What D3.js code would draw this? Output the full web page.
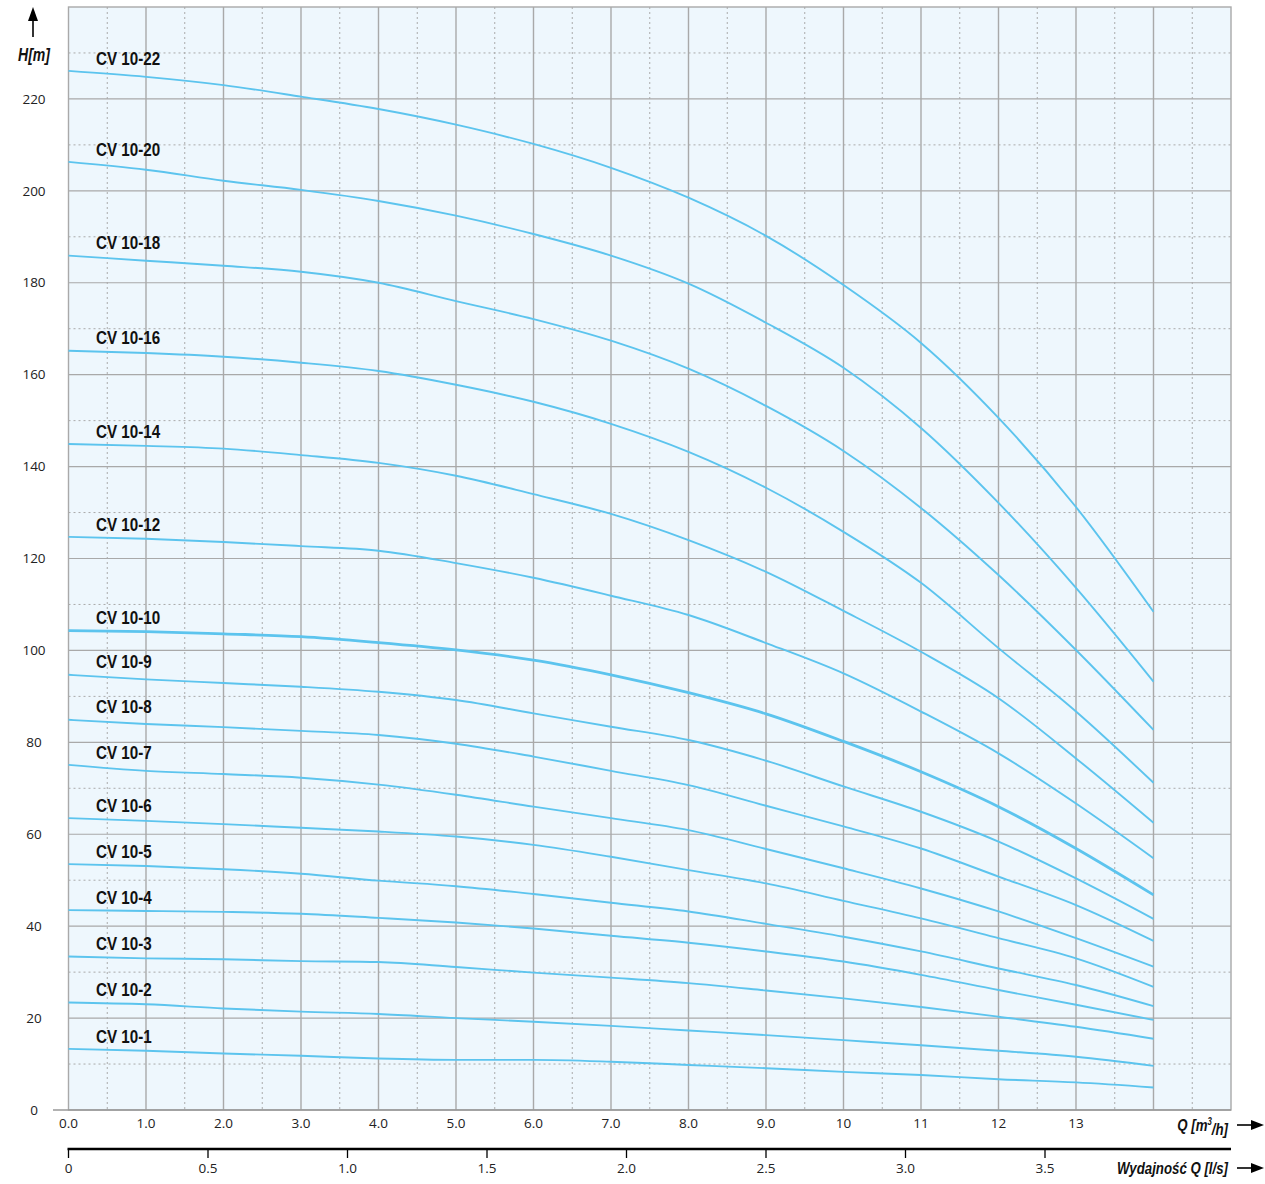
<!DOCTYPE html>
<html><head><meta charset="utf-8">
<script src="https://cdn.jsdelivr.net/npm/d3@7"></script>
<style>
html,body{margin:0;padding:0;background:#fff;}
svg{display:block;}
</style></head>
<body>
<svg id="chart" width="1265" height="1184"></svg>
<script>
// ---- data ----
const flowQ = [0,1,2,3,4,5,6,7,8,9,10,11,12,13,14];
const models = ["CV 10-22","CV 10-20","CV 10-18","CV 10-16","CV 10-14","CV 10-12","CV 10-10","CV 10-9","CV 10-8","CV 10-7","CV 10-6","CV 10-5","CV 10-4","CV 10-3","CV 10-2","CV 10-1"];
const head_22 = [226.1,224.8,223.0,220.5,217.8,214.4,210.2,205.0,198.5,190.2,179.5,166.9,150.6,131.2,108.4];
const head_20 = [206.3,204.6,202.2,200.2,197.8,194.6,190.6,185.9,179.8,171.3,161.5,148.4,132.1,113.6,93.2];
const head_18 = [185.9,184.8,183.7,182.4,180.0,176.0,172.1,167.4,161.3,153.2,143.4,131.0,116.4,100.1,82.7];
const head_16 = [165.2,164.7,163.9,162.6,160.8,157.8,154.1,149.3,143.2,135.4,125.8,114.7,100.5,86.7,71.2];
const head_14 = [144.9,144.5,143.9,142.5,140.8,138.0,134.0,129.7,124.0,117.1,108.6,99.7,89.6,76.5,62.5];
const head_12 = [124.7,124.3,123.6,122.7,121.7,119.0,115.8,111.9,107.7,101.6,95.0,86.7,77.6,66.7,54.8];
const head_10 = [104.3,104.1,103.6,103.0,101.7,100.1,97.9,94.7,90.8,86.2,80.2,73.6,66.0,56.9,46.8];
const head_9  = [94.7,93.7,92.9,92.1,91.0,89.2,86.3,83.4,80.5,76.0,70.4,64.9,58.4,50.4,41.6];
const head_8  = [84.9,84.0,83.3,82.5,81.6,79.7,76.9,73.8,70.7,66.2,61.7,56.9,50.8,44.6,36.8];
const head_7  = [75.1,73.8,73.1,72.3,70.8,68.6,66.0,63.5,60.9,56.8,52.6,48.2,43.2,37.4,31.2];
const head_6  = [63.5,62.9,62.2,61.4,60.6,59.5,57.7,55.1,52.2,49.3,45.5,41.7,37.4,33.0,26.8];
const head_5  = [53.5,53.1,52.4,51.4,49.9,48.7,47.0,45.1,43.2,40.5,37.7,34.5,30.8,27.2,22.6];
const head_4  = [43.5,43.3,43.1,42.7,41.8,40.8,39.5,37.9,36.4,34.5,32.3,29.4,26.1,22.9,19.6];
const head_3  = [33.4,33.0,32.8,32.4,32.2,31.1,29.9,28.8,27.6,26.0,24.3,22.4,20.3,18.1,15.5];
const head_2  = [23.4,23.0,22.1,21.4,20.9,20.0,19.2,18.3,17.3,16.3,15.2,14.1,12.9,11.6,9.6];
const head_1  = [13.3,12.9,12.3,11.8,11.2,10.9,10.9,10.5,9.8,9.1,8.3,7.6,6.7,6.0,4.9];
const heads = [head_22,head_20,head_18,head_16,head_14,head_12,head_10,head_9,head_8,head_7,head_6,head_5,head_4,head_3,head_2,head_1];

const hTicks = [0,20,40,60,80,100,120,140,160,180,200,220];
const qTickValues = [0,1,2,3,4,5,6,7,8,9,10,11,12,13];
const qTickLabels = ["0.0","1.0","2.0","3.0","4.0","5.0","6.0","7.0","8.0","9.0","10","11","12","13"];
const lsTickValues = [0,0.5,1.0,1.5,2.0,2.5,3.0,3.5];
const lsTickLabels = ["0","0.5","1.0","1.5","2.0","2.5","3.0","3.5"];

// ---- layout ----
const L = 68.5, R = 1231, T = 7, B = 1110;
const x = d3.scaleLinear().domain([0,15]).range([L,R]);
const y = d3.scaleLinear().domain([0,240]).range([B,T]);
const xls = d3.scaleLinear().domain([0,15/3.6]).range([L,R]);

const svg = d3.select("#chart");
const curveColor = "#5cc4ee";
const gridColor = "#a9a9a9";
const numFont = "'Open Sans','Noto Sans',sans-serif";
const condFont = "'Liberation Sans','Arial',sans-serif";

function condText(px, py, str, size, italic, anchor, sx){
  const t = svg.append("text")
    .attr("transform",`translate(${px},${py}) scale(${sx},1)`)
    .attr("dy","0.35em").attr("text-anchor",anchor||"start")
    .attr("font-family",condFont).attr("font-weight","bold")
    .attr("font-style",italic?"italic":"normal")
    .attr("font-size",size).attr("fill","#111");
  if(str!==null) t.text(str);
  return t;
}

svg.append("rect").attr("x",L).attr("y",T).attr("width",R-L).attr("height",B-T).attr("fill","#eef7fd");

// dashed grid
const g = svg.append("g");
d3.range(0.5,15,1).forEach(v=>{
  g.append("line").attr("x1",x(v)).attr("x2",x(v)).attr("y1",T).attr("y2",B)
   .attr("stroke","#aaa").attr("stroke-width",1).attr("stroke-dasharray","2,3");
});
d3.range(10,240,20).forEach(v=>{
  g.append("line").attr("x1",L).attr("x2",R).attr("y1",y(v)).attr("y2",y(v))
   .attr("stroke","#aaa").attr("stroke-width",1).attr("stroke-dasharray","2,3");
});
// solid grid
d3.range(1,15,1).forEach(v=>{
  g.append("line").attr("x1",x(v)).attr("x2",x(v)).attr("y1",T).attr("y2",B)
   .attr("stroke",gridColor).attr("stroke-width",1.4);
});
d3.range(20,240,20).forEach(v=>{
  g.append("line").attr("x1",L).attr("x2",R).attr("y1",y(v)).attr("y2",y(v))
   .attr("stroke",gridColor).attr("stroke-width",1.2);
});
// border
svg.append("rect").attr("x",L).attr("y",T).attr("width",R-L).attr("height",B-T)
  .attr("fill","none").attr("stroke",gridColor).attr("stroke-width",1.4);
// bottom axis line extended to the left
svg.append("line").attr("x1",53).attr("x2",R).attr("y1",B).attr("y2",B).attr("stroke","#999").attr("stroke-width",1.6);

// curves
const line = d3.line().x((d,i)=>x(flowQ[i])).y(d=>y(d)).curve(d3.curveMonotoneX);
heads.forEach((h,k)=>{
  svg.append("path").attr("d",line(h)).attr("fill","none")
    .attr("stroke",curveColor).attr("stroke-width", models[k]==="CV 10-10"?2.8:1.9);
});
// labels
heads.forEach((h,k)=>{
  condText(96, y(h[0])-13, models[k], 19, false, "start", 0.8);
});

// y tick labels
hTicks.forEach(v=>{
  svg.append("text").attr("x",34).attr("y",y(v)).attr("dy","0.35em").attr("text-anchor","middle")
    .attr("font-family",numFont).attr("font-size",13.5).attr("fill","#222").text(v);
});
// x tick labels
qTickValues.forEach((v,i)=>{
  svg.append("text").attr("x",x(v)).attr("y",1123).attr("dy","0.35em").attr("text-anchor","middle")
    .attr("font-family",numFont).attr("font-size",13.5).attr("fill","#222").text(qTickLabels[i]);
});
// second axis (l/s)
svg.append("line").attr("x1",L-1).attr("x2",R).attr("y1",1149).attr("y2",1149).attr("stroke","#000").attr("stroke-width",2.6);
lsTickValues.forEach((v,i)=>{
  svg.append("line").attr("x1",xls(v)).attr("x2",xls(v)).attr("y1",1149).attr("y2",1158).attr("stroke","#000").attr("stroke-width",1.3);
  svg.append("text").attr("x",xls(v)).attr("y",1168).attr("dy","0.35em").attr("text-anchor","middle")
    .attr("font-family",numFont).attr("font-size",13.5).attr("fill","#222").text(lsTickLabels[i]);
});

// axis titles
const qt = condText(1228, 1125, null, 17, true, "end", 0.78);
qt.append("tspan").text("Q  [m");
qt.append("tspan").attr("font-size",10).attr("dy","-0.6em").text("3");
qt.append("tspan").attr("dy","0.6em").text("/h]");
condText(1228, 1168, "Wydajność Q [l/s]", 17, true, "end", 0.78);
condText(34, 55, "H[m]", 18, true, "middle", 0.78);

// arrows
function hArrow(x0,x1,yy){
  svg.append("line").attr("x1",x0).attr("x2",x1-10).attr("y1",yy).attr("y2",yy).attr("stroke","#000").attr("stroke-width",1.6);
  svg.append("path").attr("d",`M${x1},${yy} L${x1-13},${yy-5} L${x1-13},${yy+5} Z`).attr("fill","#000");
}
hArrow(1237,1264,1125);
hArrow(1237,1264,1168);
svg.append("line").attr("x1",33).attr("x2",33).attr("y1",37).attr("y2",16).attr("stroke","#000").attr("stroke-width",1.6);
svg.append("path").attr("d","M33,7 L28,21 L38,21 Z").attr("fill","#000");
</script>
</body></html>
